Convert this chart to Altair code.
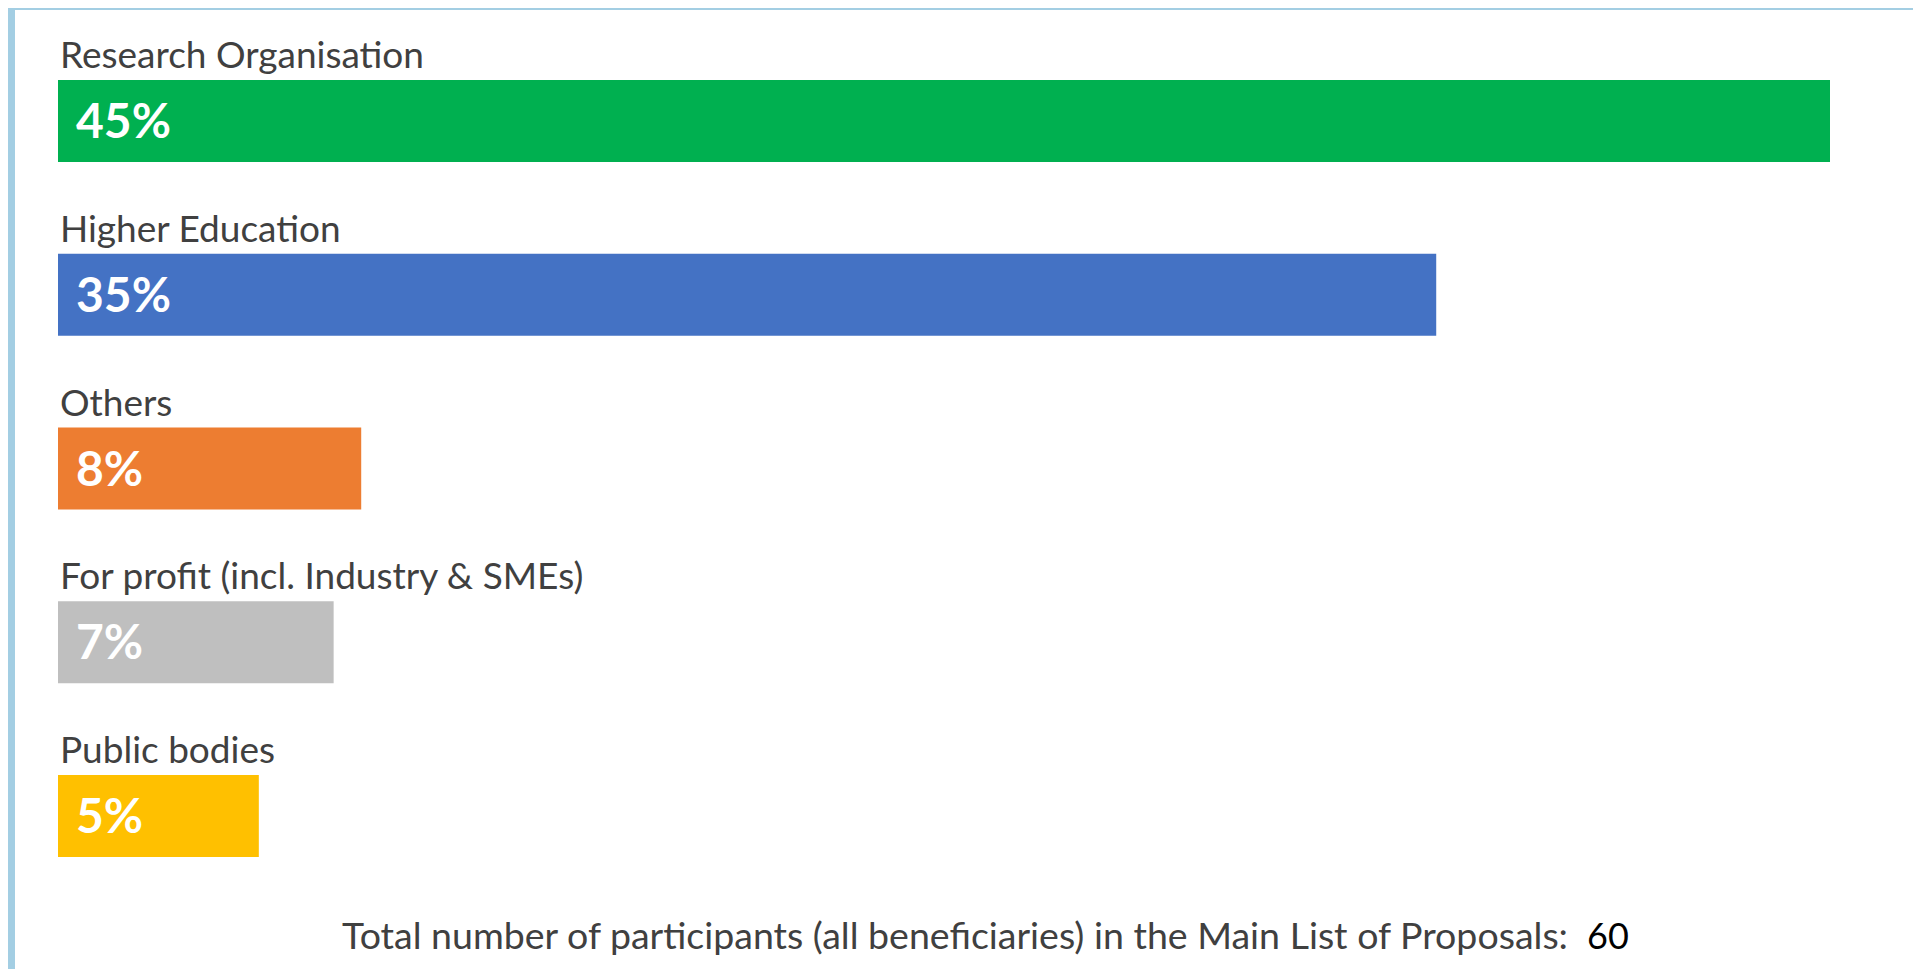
import altair as alt
import pandas as pd

categories = [
    "Research Organisation",
    "Higher Education",
    "Others",
    "For profit (incl. Industry & SMEs)",
    "Public bodies",
]
shares = [45, 35, 7.7, 7.0, 5.1]
share_labels = ["45%", "35%", "8%", "7%", "5%"]
colors = ["#00B050", "#4472C4", "#ED7D31", "#BFBFBF", "#FFC000"]
footer_text = "Total number of participants (all beneficiaries) in the Main List of Proposals:"
total_participants = 60

df = pd.DataFrame({"category": categories, "share": shares, "label": share_labels})

W, H = 1905, 961
FONT = "Lato"
BORDER = "#A3CEE3"
TEXT = "#404040"

xscale = alt.Scale(domain=[0, 45], range=[50, 1822])
yscale = alt.Scale(domain=categories, range=[72, 849], paddingInner=0.528, paddingOuter=0)

X = alt.X("share:Q", scale=xscale, axis=None)
Y = alt.Y("category:N", sort=categories, scale=yscale, axis=None)

base = alt.Chart(df)

bars = base.mark_bar().encode(
    x=X,
    y=Y,
    color=alt.Color("category:N", scale=alt.Scale(domain=categories, range=colors), legend=None),
)

cat_text = base.mark_text(
    align="left", baseline="alphabetic", dx=2, dy=-53, font=FONT, fontSize=37, color=TEXT
).encode(x=alt.datum(0), y=Y, text="category:N")

pct_text = base.mark_text(
    align="left", baseline="alphabetic", dx=18, dy=17, font=FONT, fontSize=48,
    fontWeight="bold", color="white"
).encode(x=alt.datum(0), y=Y, text="label:N")

one = alt.Data(values=[{"t": footer_text, "n": str(total_participants)}])

footer = alt.Chart(one).mark_text(
    align="right", baseline="alphabetic", font=FONT, fontSize=37.5, color=TEXT
).encode(x=alt.value(1560), y=alt.value(941), text="t:N")

footer_n = alt.Chart(one).mark_text(
    align="left", baseline="alphabetic", font=FONT, fontSize=36, color="black"
).encode(x=alt.value(1579), y=alt.value(941), text="n:N")

top_border = alt.Chart(alt.Data(values=[{}])).mark_rule(color=BORDER, strokeWidth=4).encode(
    x=alt.value(0), x2=alt.value(W), y=alt.value(0)
)
left_border = alt.Chart(alt.Data(values=[{}])).mark_rule(color=BORDER, strokeWidth=7).encode(
    x=alt.value(3.5), y=alt.value(0), y2=alt.value(H)
)

chart = alt.layer(
    bars, cat_text, pct_text, footer, footer_n, top_border, left_border
).properties(
    width=W, height=H, padding=0, autosize=alt.AutoSizeParams(type="none")
).configure_view(stroke=None).configure(background="white")

chart.save("out.html", embed_options={"renderer": "svg", "actions": False})
